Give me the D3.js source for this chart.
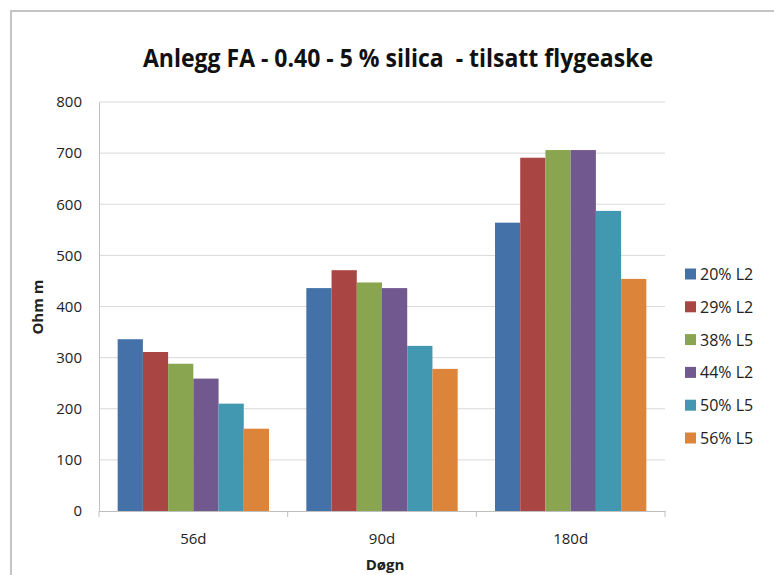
<!DOCTYPE html>
<html>
<head>
<meta charset="utf-8">
<script src="https://cdn.jsdelivr.net/npm/d3@7"></script>
<style>
  body { margin: 0; background: #fff; }
  svg { display: block; font-family: "Open Sans", sans-serif; }
  .title { white-space: pre; }
</style>
</head>
<body>
<div id="chart"></div>
<script>
// chart data
var categories = ["56d", "90d", "180d"];
var seriesNames = ["20% L2", "29% L2", "38% L5", "44% L2", "50% L5", "56% L5"];
var seriesColors = ["#4472a8", "#a94643", "#8aa54f", "#71598f", "#4298b0", "#db843a"];
var v20L2 = [336, 436, 564];
var v29L2 = [311, 471, 691];
var v38L5 = [288, 447, 706];
var v44L2 = [259, 436, 706];
var v50L5 = [210, 323, 587];
var v56L5 = [161, 278, 454];
var yTicks = [0, 100, 200, 300, 400, 500, 600, 700, 800];

function buildRows() {
    "use strict";
    var all = [v20L2, v29L2, v38L5, v44L2, v50L5, v56L5];
    var rows = [];
    categories.forEach(function(cat, ci) {
        seriesNames.forEach(function(s, si) {
            rows.push({cat: cat, series: s, value: all[si][ci], color: seriesColors[si]});
        });
    });
    return rows;
}

function drawChart() {
    "use strict";
    var width = 774, height = 575;
    var svg = d3.select("#chart").append("svg")
        .attr("width", width)
        .attr("height", height);

    // outer frame (only top and left edges visible)
    svg.append("path")
        .attr("d", "M11,575 L11,11 L774,11")
        .attr("fill", "none")
        .attr("stroke", "#c4c4c4")
        .attr("stroke-width", 2);

    var x = d3.scaleBand().domain(categories).range([99, 665]);
    var xInner = d3.scaleBand().domain(seriesNames)
        .range([0, x.bandwidth()])
        .paddingInner(0)
        .paddingOuter(0.74);
    var y = d3.scaleLinear().domain([0, 800]).range([511, 102]);

    // gridlines
    svg.append("g").selectAll("line")
        .data(yTicks.slice(1))
        .enter()
        .append("line")
        .attr("x1", 99).attr("x2", 665)
        .attr("y1", function(d) { return y(d); })
        .attr("y2", function(d) { return y(d); })
        .attr("stroke", "#d9d9d9")
        .attr("stroke-width", 1);

    // y axis
    var yAxis = d3.axisLeft(y).tickValues(yTicks).tickSize(0).tickPadding(17);
    var gy = svg.append("g").attr("transform", "translate(99,0)").call(yAxis);
    gy.select(".domain").attr("stroke", "#bfbfbf");
    gy.selectAll("text")
        .attr("font-size", 15)
        .attr("font-family", "Open Sans, sans-serif")
        .attr("fill", "#222");

    // bars
    svg.append("g").selectAll("rect")
        .data(buildRows())
        .enter()
        .append("rect")
        .attr("x", function(d) { return x(d.cat) + xInner(d.series); })
        .attr("y", function(d) { return y(d.value); })
        .attr("width", xInner.bandwidth())
        .attr("height", function(d) { return y(0) - y(d.value); })
        .attr("fill", function(d) { return d.color; });

    // x axis
    var xAxis = d3.axisBottom(x).tickSize(0).tickPadding(22);
    var gx = svg.append("g").attr("transform", "translate(0," + y(0) + ")").call(xAxis);
    gx.select(".domain").attr("stroke", "#bfbfbf");
    gx.selectAll("text")
        .attr("font-size", 15)
        .attr("font-family", "Open Sans, sans-serif")
        .attr("fill", "#222");
    // category boundary ticks
    svg.append("g").selectAll("line")
        .data(categories.concat(["end"]))
        .enter()
        .append("line")
        .attr("x1", function(d) { return d === "end" ? 665 : x(d); })
        .attr("x2", function(d) { return d === "end" ? 665 : x(d); })
        .attr("y1", y(0))
        .attr("y2", y(0) + 6)
        .attr("stroke", "#bfbfbf");

    // title
    svg.append("text")
        .attr("class", "title")
        .attr("x", 398)
        .attr("y", 67)
        .attr("text-anchor", "middle")
        .attr("font-size", 25)
        .attr("font-weight", "bold")
        .attr("textLength", 510)
        .attr("lengthAdjust", "spacingAndGlyphs")
        .attr("fill", "#111")
        .text("Anlegg FA - 0.40 - 5 % silica  - tilsatt flygeaske");

    // axis titles
    svg.append("text")
        .attr("x", 385)
        .attr("y", 570)
        .attr("text-anchor", "middle")
        .attr("font-size", 15)
        .attr("font-weight", "bold")
        .attr("fill", "#222")
        .text("Døgn");
    svg.append("text")
        .attr("transform", "translate(43,307) rotate(-90)")
        .attr("text-anchor", "middle")
        .attr("font-size", 15)
        .attr("font-weight", "bold")
        .attr("fill", "#222")
        .text("Ohm m");

    // legend
    var legend = svg.append("g").selectAll("g")
        .data(seriesNames)
        .enter()
        .append("g")
        .attr("transform", function(d, i) {
            return "translate(685," + (274 + i * 32.8) + ")";
        });
    legend.append("rect")
        .attr("x", 0).attr("y", -5.5)
        .attr("width", 11).attr("height", 11)
        .attr("fill", function(d, i) { return seriesColors[i]; });
    legend.append("text")
        .attr("x", 15)
        .attr("y", 6)
        .attr("font-size", 16)
        .attr("fill", "#222")
        .text(function(d) { return d; });
}

drawChart();
</script>
</body>
</html>
